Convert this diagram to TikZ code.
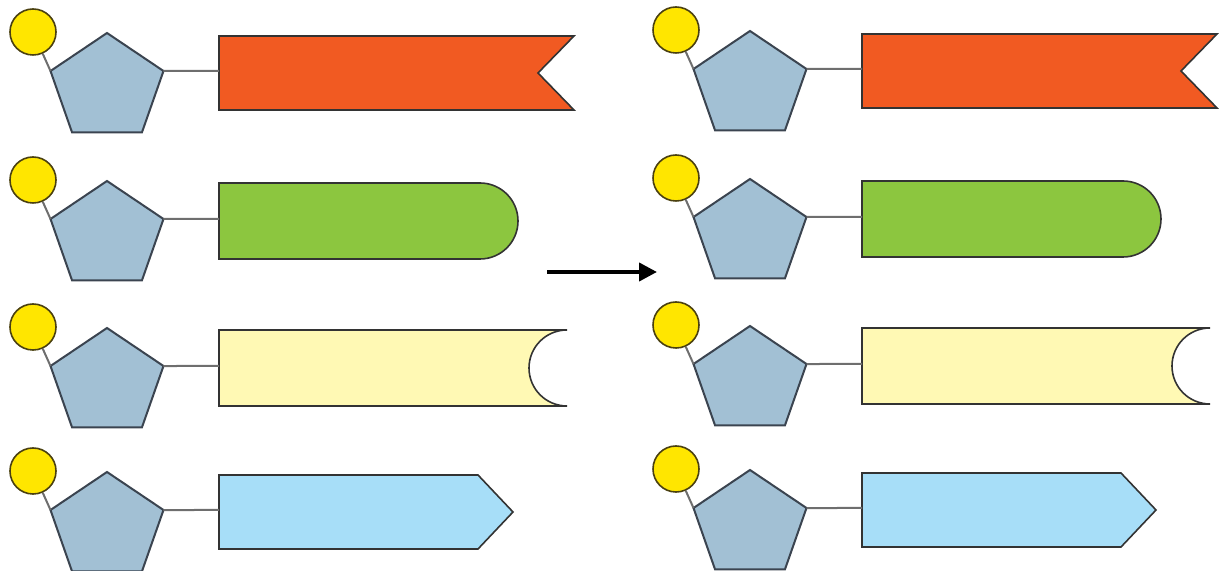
\documentclass[tikz,border=0pt]{standalone}
\usepackage{tikz}
\usetikzlibrary{arrows.meta,shapes.geometric}
\definecolor{flagred}{HTML}{F15A22}
\definecolor{capgreen}{HTML}{8CC63F}
\definecolor{cupyellow}{HTML}{FFF9B4}
\definecolor{tipblue}{HTML}{A7DEF8}
\definecolor{pentfill}{HTML}{A2C0D4}
\definecolor{pentline}{HTML}{3B4450}
\definecolor{ballfill}{HTML}{FFE600}
\definecolor{ballline}{HTML}{4A4010}
\definecolor{linkgray}{HTML}{6E6E6E}
\definecolor{bannerline}{HTML}{333333}
\tikzset{>/.tip={Triangle[length=9pt,width=9pt]},
  ball/.style={circle,draw=ballline,fill=ballfill,line width=0.8pt,minimum size=23pt,inner sep=0pt},
  pent/.style={regular polygon,regular polygon sides=5,draw=pentline,fill=pentfill,line width=1pt,
    minimum size=55pt,inner sep=0pt,outer sep=0pt,xscale=1.08},
  link/.style={draw=linkgray,line width=1pt},
  banner/.style={draw=bannerline,line width=0.8pt}}

\begin{document}
\begin{tikzpicture}[x=0.5pt,y=-0.5pt]
\useasboundingbox (0,0) rectangle (1222,571);

% left column
\node[ball] (ball-1) at (33,32) {};
\node[pent] (pent-1) at (107,88) {};
\coordinate (tail-1) at (219,71);
\node[ball] (ball-2) at (33,180) {};
\node[pent] (pent-2) at (107,236) {};
\coordinate (tail-2) at (219,219);
\node[ball] (ball-3) at (33,327) {};
\node[pent] (pent-3) at (107,383) {};
\coordinate (tail-3) at (219,366);
\node[ball] (ball-4) at (33,471) {};
\node[pent] (pent-4) at (107,527) {};
\coordinate (tail-4) at (219,510);

% right column
\node[ball] (ball-5) at (676,30) {};
\node[pent] (pent-5) at (750,86) {};
\coordinate (tail-5) at (862,69);
\node[ball] (ball-6) at (676,178) {};
\node[pent] (pent-6) at (750,234) {};
\coordinate (tail-6) at (862,217);
\node[ball] (ball-7) at (676,325) {};
\node[pent] (pent-7) at (750,381) {};
\coordinate (tail-7) at (862,364);
\node[ball] (ball-8) at (676,469) {};
\node[pent] (pent-8) at (750,525) {};
\coordinate (tail-8) at (862,508);

\coordinate (from) at (547,272);
\coordinate (to) at (657,272);

\draw[banner,fill=flagred] (219,36) -- (574,36) -- (538,73) -- (574,110) -- (219,110) -- cycle;
\draw[banner,fill=capgreen] (219,183) -- (480,183) .. controls (501,183) and (518,200) .. (518,221)
     .. controls (518,242) and (501,259) .. (480,259) -- (219,259) -- cycle;
\draw[banner,fill=cupyellow] (219,330) -- (567,330) .. controls (546,330) and (529,347) .. (529,368)
     .. controls (529,389) and (546,406) .. (567,406) -- (219,406) -- cycle;
\draw[banner,fill=tipblue] (219,475) -- (478,475) -- (513,512) -- (478,549) -- (219,549) -- cycle;

\draw[banner,fill=flagred] (862,34) -- (1217,34) -- (1181,71) -- (1217,108) -- (862,108) -- cycle;
\draw[banner,fill=capgreen] (862,181) -- (1123,181) .. controls (1144,181) and (1161,198) .. (1161,219)
     .. controls (1161,240) and (1144,257) .. (1123,257) -- (862,257) -- cycle;
\draw[banner,fill=cupyellow] (862,328) -- (1210,328) .. controls (1189,328) and (1172,345) .. (1172,366)
     .. controls (1172,387) and (1189,404) .. (1210,404) -- (862,404) -- cycle;
\draw[banner,fill=tipblue] (862,473) -- (1121,473) -- (1156,510) -- (1121,547) -- (862,547) -- cycle;

\draw[link] (ball-1) -- (pent-1.corner 2);
\draw[link] (pent-1.corner 5) -- (tail-1);
\draw[link] (ball-2) -- (pent-2.corner 2);
\draw[link] (pent-2.corner 5) -- (tail-2);
\draw[link] (ball-3) -- (pent-3.corner 2);
\draw[link] (pent-3.corner 5) -- (tail-3);
\draw[link] (ball-4) -- (pent-4.corner 2);
\draw[link] (pent-4.corner 5) -- (tail-4);
\draw[link] (ball-5) -- (pent-5.corner 2);
\draw[link] (pent-5.corner 5) -- (tail-5);
\draw[link] (ball-6) -- (pent-6.corner 2);
\draw[link] (pent-6.corner 5) -- (tail-6);
\draw[link] (ball-7) -- (pent-7.corner 2);
\draw[link] (pent-7.corner 5) -- (tail-7);
\draw[link] (ball-8) -- (pent-8.corner 2);
\draw[link] (pent-8.corner 5) -- (tail-8);

\draw[->,line width=2pt] (from) -- (to);
\end{tikzpicture}
\end{document}
